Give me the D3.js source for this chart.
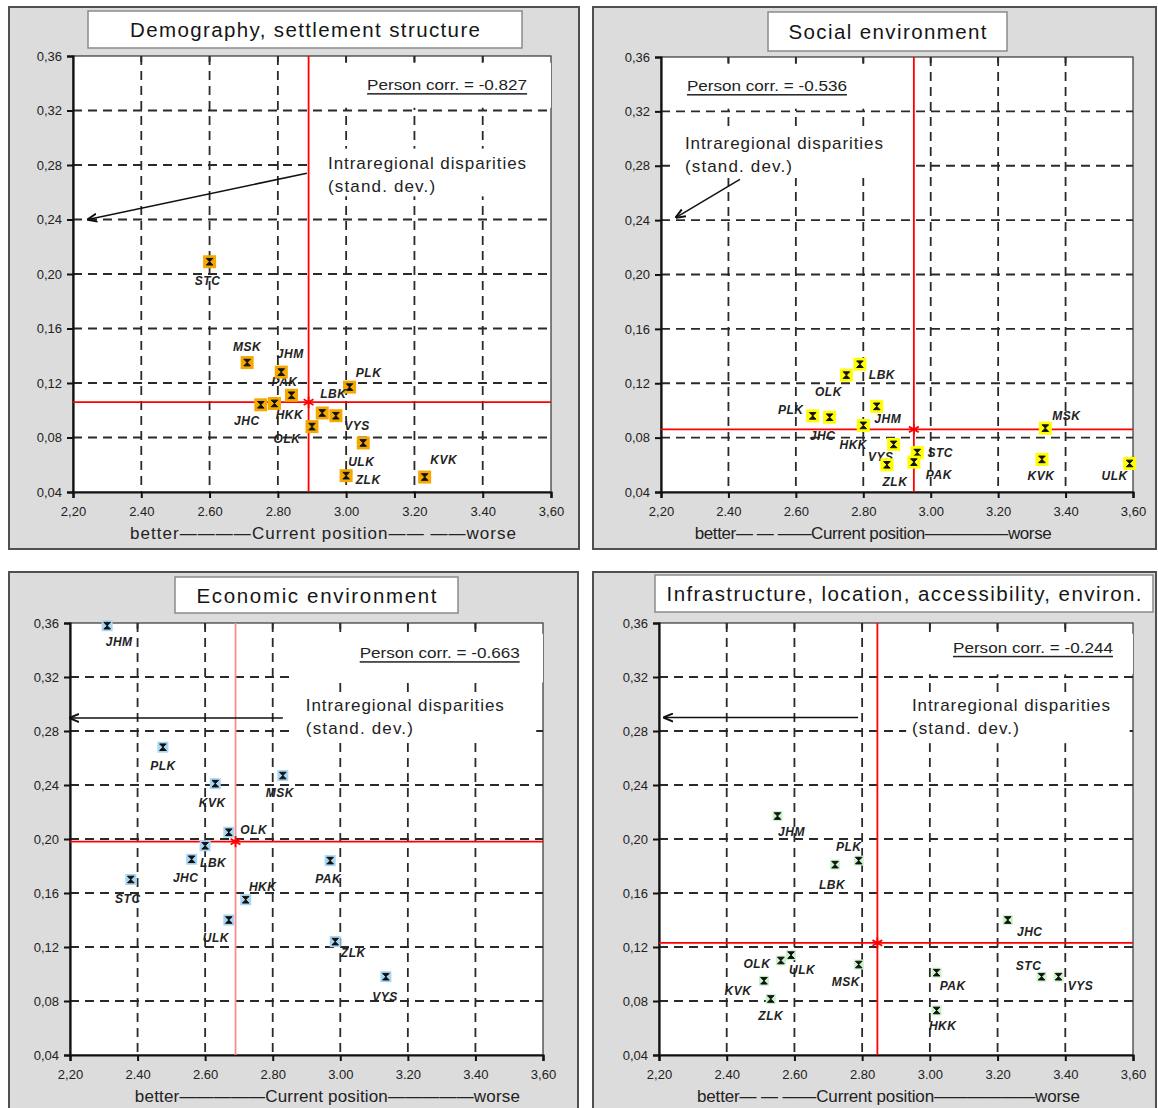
<!DOCTYPE html>
<html>
<head>
<meta charset="utf-8">
<script src="https://cdn.jsdelivr.net/npm/d3@7"></script>
<style>
  body { margin: 0; background: #fff; }
  svg { font-family: Arial, "Liberation Sans", sans-serif; }
</style>
</head>
<body>
<svg id="chart" width="1158" height="1108"></svg>
<script>
// regions, same order in every panel
var regions = ["STC", "JHC", "PLK", "KVK", "ULK", "LBK", "HKK", "PAK", "VYS", "JHM", "OLK", "ZLK", "MSK"];

// x = current position, y = intraregional disparities (stand. dev.)
var demoPos  = [2.60, 2.75, 3.01, 3.23, 3.05, 2.93, 2.79, 2.84, 2.97, 2.81, 2.90, 3.00, 2.71];
var demoDisp = [0.209, 0.104, 0.117, 0.051, 0.076, 0.098, 0.105, 0.111, 0.096, 0.128, 0.088, 0.052, 0.135];

var socPos  = [2.96, 2.70, 2.65, 3.33, 3.59, 2.79, 2.80, 2.95, 2.89, 2.84, 2.75, 2.87, 3.34];
var socDisp = [0.069, 0.095, 0.096, 0.064, 0.061, 0.134, 0.089, 0.062, 0.075, 0.103, 0.126, 0.060, 0.087];

var ecoPos  = [2.38, 2.56, 2.475, 2.63, 2.67, 2.60, 2.72, 2.97, 3.135, 2.31, 2.67, 2.985, 2.83];
var ecoDisp = [0.170, 0.185, 0.268, 0.241, 0.140, 0.195, 0.155, 0.184, 0.098, 0.358, 0.205, 0.124, 0.247];

var infPos  = [3.33, 3.23, 2.79, 2.51, 2.59, 2.72, 3.02, 3.02, 3.38, 2.55, 2.56, 2.53, 2.79];
var infDisp = [0.098, 0.140, 0.184, 0.095, 0.114, 0.181, 0.073, 0.101, 0.098, 0.217, 0.110, 0.0815, 0.107];

// averages (red cross) and correlations
var meanPos  = [2.89, 2.95, 2.69, 2.845];
var meanDisp = [0.106, 0.086, 0.198, 0.123];
var corrText = ["Person corr. = -0.827", "Person corr. = -0.536", "Person corr. = -0.663", "Person corr. = -0.244"];
var titles = ["Demography, settlement structure", "Social environment", "Economic environment",
              "Infrastructure, location, accessibility, environ."];

var xTicks = [2.2, 2.4, 2.6, 2.8, 3.0, 3.2, 3.4, 3.6];
var yTicks = [0.04, 0.08, 0.12, 0.16, 0.20, 0.24, 0.28, 0.32, 0.36];

// label offsets (px) for each region, per panel
var labelOff = [
  [[-2,19],[-14,16],[19,-14],[19,-17],[-2,19],[11,-19],[15,12],[-7,-13],[21,10],[9,-18],[-25,12],[22,4],[0,-16]],
  [[23,0],[-7,19],[-22,-6],[-1,17],[-15,13],[22,11],[-10,20],[25,13],[-13,13],[11,13],[-18,17],[8,17],[21,-12]],
  [[-3,19],[-6,19],[0,19],[-3,19],[-13,18],[8,17],[17,-13],[-2,18],[-1,20],[12,16],[25,-2],[18,11],[-3,17]],
  [[-13,-11],[22,12],[-10,-14],[-26,10],[11,15],[-3,20],[6,16],[16,13],[22,9],[14,16],[-24,3],[0,17],[-13,17]]
];

// panel layout
var layout = [
  { frame: [9, 7, 579, 549], title: [88, 11, 522, 48], titleW: 350, plot: [73, 56, 551, 492], fill: "#f5a800", msize: 13,
    corrBox: [2.93, 3.6, 0.355, 0.322], corrAt: [3.53, 0.339, "end"],
    noteBox: [2.90, 3.59, 0.292, 0.257], noteAt: [2.947, 0.2815], arrow: [2.885, 0.274, 2.244, 0.240],
    axTitle: "better————Current position—— ——worse", axAt: 2.367, axW: 386, vcol: "#ff0000" },
  { frame: [593, 7, 1156, 549], title: [768, 12, 1007, 51], titleW: 198, plot: [661, 57, 1133, 492], fill: "#ffff00", msize: 13,
    corrBox: [2.21, 2.94, 0.355, 0.322], corrAt: [2.277, 0.339, "start"],
    noteBox: [2.24, 2.94, 0.306, 0.271], noteAt: [2.271, 0.2967], arrow: [2.434, 0.270, 2.245, 0.242],
    axTitle: "better— — ——Current position—————worse", axAt: 2.30, axW: 357, vcol: "#ff0000" },
  { frame: [9, 572, 578, 1116], title: [175, 577, 458, 613], titleW: 240, plot: [70, 623, 543, 1055], fill: "#a8d6f2", msize: 11,
    corrBox: [2.85, 3.6, 0.352, 0.316], corrAt: [3.531, 0.338, "end"],
    noteBox: [2.85, 3.58, 0.305, 0.272], noteAt: [2.898, 0.2993], arrow: [2.83, 0.2896, 2.2, 0.2896],
    axTitle: "better—————Current position—————worse", axAt: 2.392, axW: 385, vcol: "#ff8c8c" },
  { frame: [593, 572, 1156, 1116], title: [655, 575, 1153, 612], titleW: 475, plot: [659, 623, 1133, 1055], fill: "#c9f2c9", msize: 10,
    corrBox: [2.88, 3.6, 0.352, 0.322], corrAt: [3.541, 0.342, "end"],
    noteBox: [2.93, 3.59, 0.305, 0.271], noteAt: [2.947, 0.2993], arrow: [2.788, 0.290, 2.215, 0.290],
    axTitle: "better— — ——Current position——————worse", axAt: 2.312, axW: 383, vcol: "#ff0000" }
];

var series = [[demoPos, demoDisp], [socPos, socDisp], [ecoPos, ecoDisp], [infPos, infDisp]];

var svg = d3.select("#chart");

var defs = svg.append("defs");
defs.append("marker")
    .attr("id", "arr")
    .attr("viewBox", "0 0 10 10")
    .attr("refX", 9).attr("refY", 5)
    .attr("markerWidth", 10).attr("markerHeight", 10)
    .attr("markerUnits", "userSpaceOnUse")
    .attr("orient", "auto")
  .append("path")
    .attr("d", "M0,1 L10,5 L0,9")
    .attr("fill", "none")
    .attr("stroke", "#111")
    .attr("stroke-width", 2);

function xFmt(d, i) {
  var s = d3.format(".2f")(d);
  return (i === 0 || i === xTicks.length - 1) ? s.replace(".", ",") : s;
}

function drawPanel(k) {
  var L = layout[k];
  var g = svg.append("g").attr("class", "panel");

  // gray frame
  g.append("rect")
      .attr("x", L.frame[0]).attr("y", L.frame[1])
      .attr("width", L.frame[2] - L.frame[0]).attr("height", L.frame[3] - L.frame[1])
      .attr("fill", "#dcdcdc").attr("stroke", "#505050").attr("stroke-width", 2);

  var x = d3.scaleLinear().domain([2.2, 3.6]).range([L.plot[0], L.plot[2]]);
  var y = d3.scaleLinear().domain([0.04, 0.36]).range([L.plot[3], L.plot[1]]);

  // plot area
  g.append("rect")
      .attr("x", x(2.2)).attr("y", y(0.36))
      .attr("width", x(3.6) - x(2.2)).attr("height", y(0.04) - y(0.36))
      .attr("fill", "#fff").attr("stroke", "#333").attr("stroke-width", 1.2);

  // dashed grid
  var grid = g.append("g").attr("stroke", "#2a2a2a").attr("stroke-width", 1.8).attr("stroke-dasharray", "9,6");
  grid.selectAll("line.v").data(xTicks.slice(1, -1)).join("line")
      .attr("class", "v")
      .attr("x1", d => x(d)).attr("x2", d => x(d))
      .attr("y1", y(0.36)).attr("y2", y(0.04));
  grid.selectAll("line.h").data(yTicks.slice(1, -1)).join("line")
      .attr("class", "h")
      .attr("x1", x(2.2)).attr("x2", x(3.6))
      .attr("y1", d => y(d)).attr("y2", d => y(d));

  // white boxes behind the notes
  [L.corrBox, L.noteBox].forEach(function(b) {
    g.append("rect")
        .attr("x", x(b[0])).attr("y", y(b[2]))
        .attr("width", x(b[1]) - x(b[0])).attr("height", y(b[3]) - y(b[2]))
        .attr("fill", "#fff");
  });

  // top tick stubs for the vertical grid
  g.append("g").selectAll("line").data(xTicks.slice(1, -1)).join("line")
      .attr("x1", d => x(d)).attr("x2", d => x(d))
      .attr("y1", y(0.36)).attr("y2", y(0.36) + 6)
      .attr("stroke", "#2a2a2a").attr("stroke-width", 1.8);

  // axes
  var ax = g.append("g")
      .attr("transform", "translate(0," + y(0.04) + ")")
      .call(d3.axisBottom(x).tickValues(xTicks).tickFormat(xFmt).tickSize(6).tickPadding(9));
  var ay = g.append("g")
      .attr("transform", "translate(" + x(2.2) + ",0)")
      .call(d3.axisLeft(y).tickValues(yTicks).tickFormat(d => d3.format(".2f")(d).replace(".", ",")).tickSize(6).tickPadding(5));
  [ax, ay].forEach(function(a) {
    a.select(".domain").attr("stroke", "#111").attr("stroke-width", 2.2);
    a.selectAll(".tick line").attr("stroke", "#111").attr("stroke-width", 2);
    a.selectAll(".tick text").attr("fill", "#222").attr("font-size", 13)
        .attr("font-family", "Arial, 'Liberation Sans', sans-serif");
  });

  // average lines
  g.append("line")
      .attr("x1", x(2.2)).attr("x2", x(3.6))
      .attr("y1", y(meanDisp[k])).attr("y2", y(meanDisp[k]))
      .attr("stroke", "#ff0000").attr("stroke-width", 1.8);
  g.append("line")
      .attr("x1", x(meanPos[k])).attr("x2", x(meanPos[k]))
      .attr("y1", y(0.36)).attr("y2", y(0.04))
      .attr("stroke", L.vcol).attr("stroke-width", 1.8);
  g.append("path")
      .attr("transform", "translate(" + x(meanPos[k]) + "," + y(meanDisp[k]) + ")")
      .attr("d", d3.symbol().type(d3.symbolAsterisk).size(90))
      .attr("fill", "none").attr("stroke", "#ff0000").attr("stroke-width", 1.8);

  // notes
  g.append("text")
      .attr("x", x(L.corrAt[0])).attr("y", y(L.corrAt[1]))
      .attr("text-anchor", L.corrAt[2]).attr("dominant-baseline", "central")
      .attr("font-size", 15).attr("fill", "#222")
      .attr("text-decoration", "underline")
      .attr("textLength", 160).attr("lengthAdjust", "spacingAndGlyphs")
      .text(corrText[k]);

  var note = g.append("text")
      .attr("x", x(L.noteAt[0])).attr("y", y(L.noteAt[1]))
      .attr("dominant-baseline", "central")
      .attr("font-size", 17).attr("fill", "#222");
  note.append("tspan").attr("textLength", 198).text("Intraregional disparities");
  note.append("tspan").attr("x", x(L.noteAt[0])).attr("dy", 23).attr("textLength", 107).text("(stand. dev.)");

  g.append("line")
      .attr("x1", x(L.arrow[0])).attr("y1", y(L.arrow[1]))
      .attr("x2", x(L.arrow[2])).attr("y2", y(L.arrow[3]))
      .attr("stroke", "#111").attr("stroke-width", 1.5)
      .attr("marker-end", "url(#arr)");

  // points
  var pts = regions.map(function(r, i) {
    return { name: r, pos: series[k][0][i], disp: series[k][1][i], off: labelOff[k][i] };
  });
  var s = L.msize;
  var pg = g.append("g").selectAll("g").data(pts).join("g")
      .attr("transform", d => "translate(" + x(d.pos) + "," + y(d.disp) + ")");
  pg.append("rect")
      .attr("x", -s / 2).attr("y", -s / 2).attr("width", s).attr("height", s)
      .attr("fill", L.fill);
  pg.append("path")
      .attr("d", "M-3.3,-3.3H3.3L-3.3,3.3H3.3Z")
      .attr("fill", "#111").attr("stroke", "#111").attr("stroke-width", 1);
  pg.append("text")
      .attr("x", d => d.off[0]).attr("y", d => d.off[1])
      .attr("text-anchor", "middle").attr("dominant-baseline", "central")
      .attr("font-size", 12).attr("font-weight", "bold").attr("font-style", "italic")
      .attr("letter-spacing", 0.5)
      .attr("fill", "#222")
      .text(d => d.name);

  // x axis title
  g.append("text")
      .attr("x", x(L.axAt)).attr("y", y(0.04) + 41)
      .attr("dominant-baseline", "central")
      .attr("font-size", 17).attr("fill", "#222")
      .attr("textLength", L.axW).attr("lengthAdjust", "spacing")
      .text(L.axTitle);

  // title box
  g.append("rect")
      .attr("x", L.title[0]).attr("y", L.title[1])
      .attr("width", L.title[2] - L.title[0]).attr("height", L.title[3] - L.title[1])
      .attr("fill", "#fff").attr("stroke", "#8a8a8a").attr("stroke-width", 1.5);
  g.append("text")
      .attr("x", (L.title[0] + L.title[2]) / 2).attr("y", (L.title[1] + L.title[3]) / 2)
      .attr("text-anchor", "middle").attr("dominant-baseline", "central")
      .attr("font-size", 20.5).attr("fill", "#151515")
      .attr("textLength", L.titleW).attr("lengthAdjust", "spacing")
      .text(titles[k]);
}

d3.range(4).forEach(drawPanel);
</script>
</body>
</html>
